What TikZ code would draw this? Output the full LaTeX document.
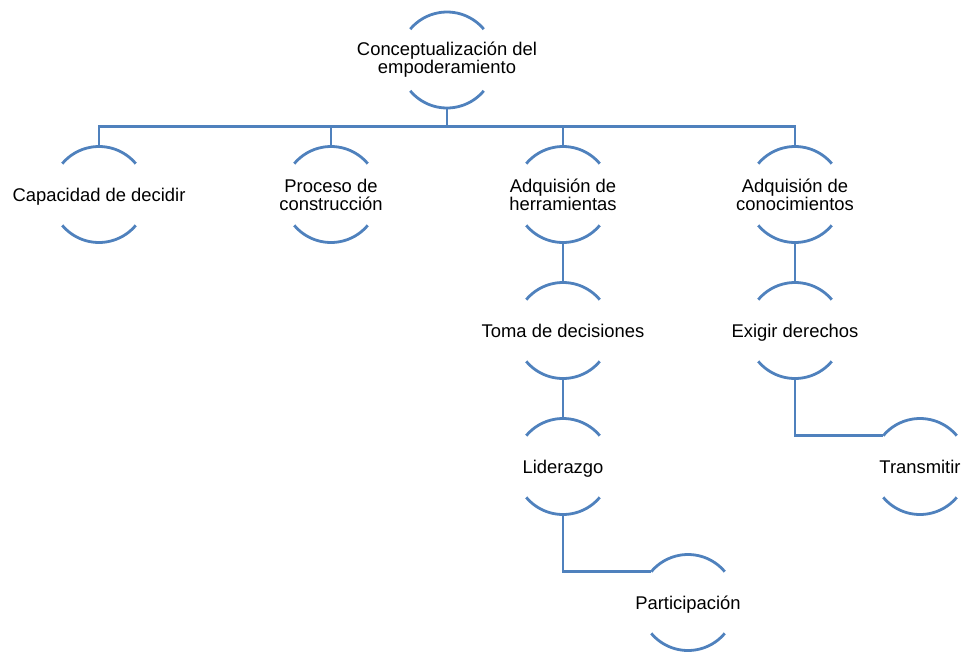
\documentclass[tikz,border=0pt]{standalone}
\usepackage{fontspec}
\setmainfont{Liberation Sans}
\usepackage{tikz}
\definecolor{ramaazul}{RGB}{79,129,189}
\tikzset{
  texto/.style={align=center, font=\fontsize{18.4}{18}\selectfont, inner sep=0pt},
  circulo/.style={circle, minimum size=96pt, inner sep=0pt, outer sep=0pt},
  raiz/.style={circulo, label={[texto]center:#1}},
  idea/.style={circulo, label={[texto, text depth=0pt]center:#1}},
  rama/.style={draw=ramaazul, line width=2.8pt},
  arco/.style={draw=ramaazul, line width=2.8pt}
}
\begin{document}
\begin{tikzpicture}[x=1pt,y=1pt,
    level 1/.style={level distance=134.5pt},
    level 2/.style={level distance=136pt},
    edge from parent/.style={rama},
    edge from parent path={(\tikzparentnode.south) -- ++(0,-18.5pt) -| (\tikzchildnode.north)}]
            \useasboundingbox (0,0) rectangle (964,-651);
            \node[raiz={Conceptualización del\\empoderamiento}] (concepto) at (447,-60) {} [sibling distance=232pt]
            child{node[idea={Capacidad de decidir}] (capacidad) {}}
            child{node[idea={Proceso de\\construcción}] (proceso) {}}
            child{node[idea={Adquisión de\\herramientas}] (herramientas) {}
                child{node[idea={Toma de decisiones}] (toma) {}
                    child{node[idea={Liderazgo}] (liderazgo) {}
                        child[edge from parent path={(\tikzparentnode.south) |- (\tikzchildnode.140)}]
                            {node[idea={Participación}, xshift=125pt] (participacion) {}}
                    }
                }
            }
            child{node[idea={Adquisión de\\conocimientos}] (conocimientos) {}
                child{node[idea={Exigir derechos}] (exigir) {}
                    child[edge from parent path={(\tikzparentnode.south) |- (\tikzchildnode.140)}]
                        {node[idea={Transmitir}, xshift=125pt] (transmitir) {}}
                }
            };
            % arcos de cada circulo
            \foreach \n in {concepto,capacidad,proceso,herramientas,toma,liderazgo,participacion,conocimientos,exigir,transmitir}{
                \draw[arco] (\n.40) arc[start angle=40, end angle=140, radius=48pt];
                \draw[arco] (\n.220) arc[start angle=220, end angle=320, radius=48pt];
            }
        \end{tikzpicture}
\end{document}
